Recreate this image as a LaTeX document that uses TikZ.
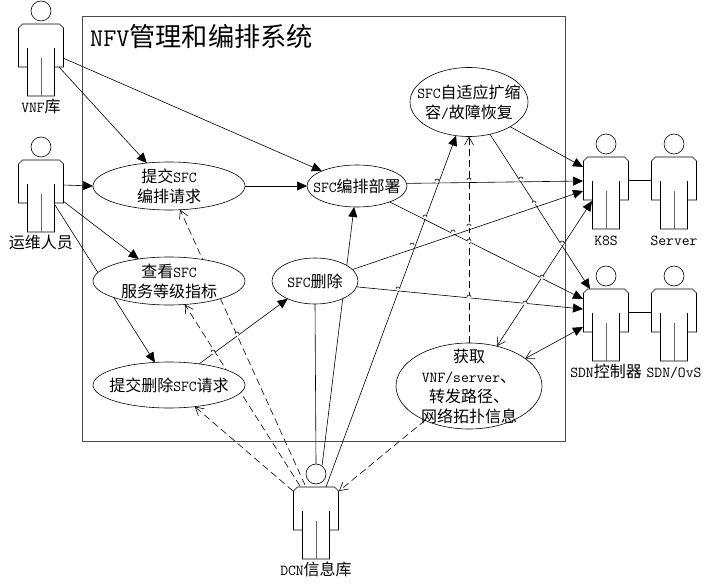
\documentclass[tikz,border=0pt]{standalone}
\usepackage{fontspec}
\usetikzlibrary{arrows.meta}
\usetikzlibrary{backgrounds}
\usetikzlibrary{positioning}
\usetikzlibrary{shapes.geometric}
\newfontfamily\cjk{Noto Sans CJK SC}
\newcommand{\zh}[1]{{\fontsize{16}{20}\cjk #1}}
\tikzset{
  usecase/.style={ellipse,draw,fill=white,inner sep=-30pt,outer sep=0pt,align=center,line width=0.6pt,
    font=\fontsize{15.2}{20}\selectfont\ttfamily},
  actorbox/.style={rectangle,minimum width=45pt,minimum height=72pt,inner sep=0pt,outer sep=0pt},
  actorhead/.style={circle,draw,fill=white,minimum size=20pt,inner sep=0pt,outer sep=0pt,line width=0.6pt},
  actorname/.style={inner sep=0pt,text height=11pt,text depth=3pt,font=\fontsize{15.2}{20}\selectfont\ttfamily},
  link/.style={line width=0.6pt},
  solidarrow/.style={link,-{Triangle[length=10pt,width=9pt]}},
  openarrow/.style={link,dashed,dash pattern=on 7pt off 4pt,-{Straight Barb[length=8pt,width=9pt]}},
  bothways/.style={link,{Straight Barb[length=8pt,width=9pt]}-{Triangle[length=10pt,width=9pt]}}
}
% name, x, y of shoulders, label
\newcommand{\actor}[4]{
  \node[actorbox] (#1) at (#2,#3+36) {};
  \node[actorhead] (#1head) at (#2,#3-13) {};
  \draw[fill=white,line width=0.6pt,shift={(#1.center)}] (-22.5,-32) -- (-18.5,-36) -- (18.5,-36) -- (22.5,-32)
    -- (22.5,7) -- (13.5,7) -- (13.5,36) -- (-13.5,36) -- (-13.5,7) -- (-22.5,7) -- cycle;
  \draw[line width=0.6pt,shift={(#1.center)}] (-13.5,-12) -- (-13.5,7) (13.5,-12) -- (13.5,7);
  \draw[line width=0.9pt,black!60,shift={(#1.center)}] (0,-2) -- (0,36);
  \node[actorname,below=5pt of #1] (#1name) {#4};
}

\begin{document}
\begin{tikzpicture}[x=1pt,y=-1pt]
  \useasboundingbox (0,0) rectangle (711,588);

  \node[anchor=west,inner sep=0pt,font=\fontsize{25.5}{26}\selectfont\ttfamily] (title) at (90,36)
    {NFV{\fontsize{26.2}{26}\cjk 管理和编排系统}};

  \node[usecase,minimum width=152pt,minimum height=48pt] (tijiao) at (169,186) {\zh{提交}SFC\\\zh{编排请求}};
  \node[usecase,minimum width=152pt,minimum height=48pt] (chakan) at (169,281) {\zh{查看}SFC\\\zh{服务等级指标}};
  \node[usecase,minimum width=152pt,minimum height=46pt] (tjsc) at (169,385) {\zh{提交删除}SFC\zh{请求}};
  \node[usecase,minimum width=100pt,minimum height=42pt] (bushu) at (357,186) {SFC\zh{编排部署}};
  \node[usecase,minimum width=86pt,minimum height=46pt] (shanchu) at (315,281) {SFC\zh{删除}};
  \node[usecase,minimum width=118pt,minimum height=69pt] (zishiying) at (469,102) {SFC\zh{自适应扩缩}\\\zh{容}/\zh{故障恢复}};
  \node[usecase,minimum width=146pt,minimum height=86pt] (huoqu) at (469,386)
    {\zh{获取}\\VNF/server\zh{、}\\\zh{转发路径、}\\\zh{网络拓扑信息}};

  \actor{vnf}{41}{24}{VNF\zh{库}}
  \actor{yunwei}{41}{160}{\zh{运维人员}}
  \actor{kbs}{606}{157}{K8S}
  \actor{server}{674}{157}{Server}
  \actor{sdn}{606}{289}{SDN\zh{控制器}}
  \actor{ovs}{674}{289}{SDN/OvS}
  \actor{dcn}{316}{487}{DCN\zh{信息库}}

  \begin{scope}[on background layer]
    \draw[line width=0.9pt,black!70] (82,16) rectangle (565,441);

    \draw[solidarrow] ([shift={(18,7)}]vnf.center) -- (tijiao.134);
    \draw[solidarrow] ([shift={(22,-2)}]vnf.center) -- (bushu.157);
    \draw[solidarrow] ([shift={(22,-11)}]yunwei.center) -- (tijiao.west);
    \draw[solidarrow] (tijiao) -- (bushu);
    \draw[solidarrow] ([shift={(22,5)}]yunwei.center) -- (chakan.144);
    \draw[solidarrow] ([shift={(14,9)}]yunwei.center) -- (tjsc.122);
    \draw[solidarrow] (tjsc.35) -- (shanchu.213);
    \draw[link] (dcnhead.north) -- (shanchu.south);
    \draw[solidarrow] (dcnhead.53) -- (bushu.262);
    \draw[solidarrow] ([shift={(10,-36)}]dcn.center) -- (zishiying.249);
    \draw[openarrow] (huoqu.north) -- (zishiying.south);
    \draw[solidarrow] (zishiying.-31) -- ([shift={(-23,-26)}]kbs.center);
    \draw[solidarrow] (zishiying.-57) -- ([shift={(-16,-36)}]sdn.center);
    \draw[solidarrow] (bushu.3) -- ([shift={(-23,-12)}]kbs.center);
    \draw[solidarrow] (bushu.-26) -- ([shift={(-23,-26)}]sdn.center);
    \draw[solidarrow] (shanchu.17) -- ([shift={(-23,-2)}]kbs.center);
    \draw[solidarrow] (shanchu.-8) -- ([shift={(-23,-16)}]sdn.center);
    \draw[bothways] (huoqu.55) -- ([shift={(-14,8)}]kbs.center);
    \draw[bothways] (huoqu.26) -- ([shift={(-23,2)}]sdn.center);
    \draw[link] ([shift={(23,-13)}]kbs.center) -- ([shift={(-23,-13)}]server.center);
    \draw[link] ([shift={(23,-13)}]sdn.center) -- ([shift={(-23,-13)}]ovs.center);
    \draw[openarrow] ([shift={(-11,-38)}]dcn.center) -- (tijiao.295);
    \draw[openarrow] ([shift={(-16,-37)}]dcn.center) -- (chakan.304);
    \draw[openarrow] ([shift={(-23,-32)}]dcn.center) -- (tjsc.320);
    \draw[openarrow] (huoqu.218) -- ([shift={(23,-32)}]dcn.center);

    % line hops
    \foreach \hx/\hy in {437/181,469/180,521/179,425/217,453/232,469/226,534/203,469/241,
        412/245,398/289,469/297,562/243,542/277,525/303,213/352,237/334} {
      \fill[white] (\hx,\hy) circle (2);
      \draw[line width=0.6pt] (\hx-2,\hy) arc (180:360:2);
    }
  \end{scope}
\end{tikzpicture}
\end{document}
